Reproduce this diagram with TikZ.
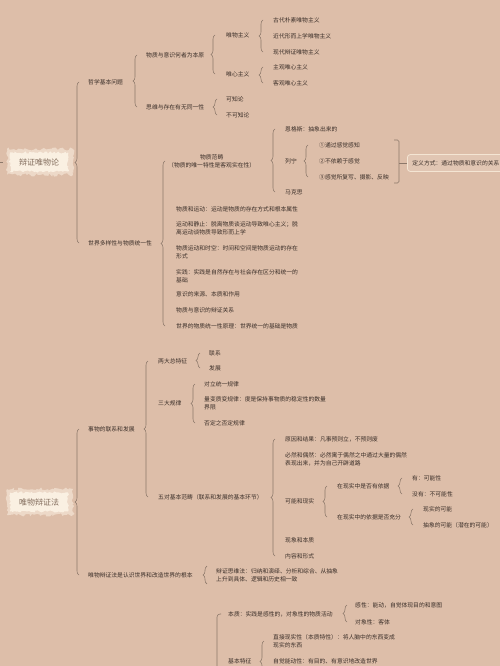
\documentclass[tikz,border=0pt]{standalone}
\usepackage{fontspec}
\newfontfamily\cjk{Noto Sans CJK SC}
\usetikzlibrary{calc,positioning,decorations.pathreplacing,decorations.pathmorphing}
\definecolor{bgtan}{RGB}{221,190,169}
\definecolor{inkbrown}{RGB}{58,46,40}
\definecolor{bracegray}{RGB}{140,120,106}
\definecolor{blobcream}{RGB}{250,240,226}
\definecolor{blobtext}{RGB}{130,108,92}
\definecolor{boxedge}{RGB}{244,229,211}

\tikzset{
  leaf/.style={anchor=west, inner sep=0pt, text=inkbrown, font=\cjk\fontsize{5.8}{8}\selectfont},
  twoline/.style={leaf, align=left},
  brcline/.style={draw=bracegray, line width=0.55pt},
  brc/.style={brcline, decorate, decoration={brace, amplitude=4pt}},
  rootblob/.style={fill=blobcream, text=blobtext, font=\cjk\fontsize{8}{9}\selectfont,
    minimum width=58pt, minimum height=19pt, inner sep=0pt,
    decorate, decoration={random steps, segment length=1.6pt, amplitude=1.1pt}},
  blobhalo/.style={fill=blobcream!55!bgtan,
    decorate, decoration={random steps, segment length=2pt, amplitude=1.6pt}},
  defbox/.style={leaf, draw=boxedge, line width=0.8pt, fill=bgtan!88!white,
    rounded corners=3pt, minimum height=17pt, inner xsep=5pt},
}

% brace from top child #2 down to bottom child #3, #1 = gap to the children
\newcommand{\tie}[3][10]{%
  \path ($(#3.west)+(-#1,0)$) coordinate (bb);
  \draw[brc] (bb) -- (bb |- #2.west);
}

\begin{document}
\begin{tikzpicture}[x=1pt,y=-1pt]
  \fill[bgtan] (0,0) rectangle (500,666);
  \useasboundingbox (0,0) rectangle (500,666);
  \pgfmathsetseed{7}

  %% 辩证唯物论
  \coordinate (c1) at (39,162);
  \fill[blobhalo] ($(c1)+(-32,-13)$) rectangle ($(c1)+(34,13)$);
  \node[rootblob] (dvm) at (c1) {辩证唯物论};
  \coordinate (edge1) at (0,162);
  \draw[brcline] (edge1) -- ++(3,0);

  \node[leaf] (zxjb) at (88,82) {哲学基本问题};
  \node[leaf] (sjdy) at (88,243) {世界多样性与物质统一性};
  \tie[9]{zxjb}{sjdy}

  \node[leaf] (wzyy) at (146,55) {物质与意识何者为本原};
  \node[leaf] (swcz) at (146,107) {思维与存在有无同一性};
  \tie[9]{wzyy}{swcz}

  \node[leaf] (wwzy) at (226,35) {唯物主义};
  \node[leaf] (wxzy) at (226,74) {唯心主义};
  \tie[11]{wwzy}{wxzy}

  \node[leaf] (gd) at (273,20) {古代朴素唯物主义};
  \node[leaf] (jd) at (273,36) {近代形而上学唯物主义};
  \node[leaf] (xd) at (273,52) {现代辩证唯物主义};
  \tie{gd}{xd}
  \node[leaf] (zg) at (273,67) {主观唯心主义};
  \node[leaf] (kg) at (273,83) {客观唯心主义};
  \tie{zg}{kg}

  \node[leaf] (kzl) at (226,99) {可知论};
  \node[leaf] (bkzl) at (226,115) {不可知论};
  \tie[9]{kzl}{bkzl}

  \node[twoline, align=center] (wzfc) at (168,161) {物质范畴\\（物质的唯一特性是客观实在性）};
  \node[leaf] (wzyd) at (176,209) {物质和运动：运动是物质的存在方式和根本属性};
  \node[twoline] (ydjz) at (176,228) {运动和静止：脱离物质谈运动导致唯心主义；脱\\离运动谈物质导致形而上学};
  \node[twoline] (ydsk) at (176,252) {物质运动和时空：时间和空间是物质运动的存在\\形式};
  \node[twoline] (sj) at (176,276) {实践：实践是自然存在与社会存在区分和统一的\\基础};
  \node[leaf] (ysly) at (176,294) {意识的来源、本质和作用};
  \node[leaf] (wzys) at (176,310) {物质与意识的辩证关系};
  \node[leaf] (tyx) at (176,326) {世界的物质统一性原理：世界统一的基础是物质};
  \tie[11]{wzfc}{tyx}

  \node[leaf] (egs) at (285,129) {恩格斯：抽象出来的};
  \node[leaf] (ln) at (285,161) {列宁};
  \node[leaf] (mkz) at (285,192) {马克思};
  \tie{egs}{mkz}

  \node[leaf] (ln1) at (319,145) {①通过感觉感知};
  \node[leaf] (ln2) at (319,161) {②不依赖于感觉};
  \node[leaf] (ln3) at (319,177) {③感觉所复写、摄影、反映};
  \tie[11]{ln1}{ln3}

  \node[defbox] (dyfs) at (407,163) {定义方式：通过物质和意识的关系};
  \coordinate (qtop) at (394,140);
  \coordinate (qbot) at (394,183);
  \coordinate (qmid) at (399,163);
  \draw[brcline, rounded corners=1.5pt] (qtop) -- ++(5,0) -- (qbot -| qmid) -- (qbot);
  \draw[brcline] (qmid) -- (dyfs.west);

  %% 唯物辩证法
  \coordinate (c2) at (39,502);
  \fill[blobhalo] ($(c2)+(-32,-13)$) rectangle ($(c2)+(34,13)$);
  \node[rootblob] (wbz) at (c2) {唯物辩证法};

  \node[leaf] (swlx) at (88,429) {事物的联系和发展};
  \node[leaf] (wbgb) at (88,575) {唯物辩证法是认识世界和改造世界的根本};
  \tie[9]{swlx}{wbgb}

  \node[leaf] (ldtz) at (158,361) {两大总特征};
  \node[leaf] (sdgl) at (158,403) {三大规律};
  \node[leaf] (wdfc) at (158,497) {五对基本范畴（联系和发展的基本环节）};
  \tie{ldtz}{wdfc}

  \node[leaf] (lx) at (209,353) {联系};
  \node[leaf] (fz) at (209,368) {发展};
  \tie[9]{lx}{fz}

  \node[leaf] (dltyl) at (204,384) {对立统一规律};
  \node[twoline] (lbzb) at (204,403) {量变质变规律：度是保持事物质的稳定性的数量\\界限};
  \node[leaf] (fdzfd) at (204,423) {否定之否定规律};
  \tie[9]{dltyl}{fdzfd}

  \node[leaf] (yyjg) at (285,439) {原因和结果：凡事预则立，不预则废};
  \node[twoline] (brou) at (285,459) {必然和偶然：必然寓于偶然之中通过大量的偶然\\表现出来，并为自己开辟道路};
  \node[leaf] (knxs) at (285,501) {可能和现实};
  \node[leaf] (xxbz) at (285,540) {现象和本质};
  \node[leaf] (nrxs) at (285,556) {内容和形式};
  \tie{yyjg}{nrxs}

  \node[leaf] (xsyj) at (337,486) {在现实中是否有依据};
  \node[leaf] (yjcf) at (337,517) {在现实中的依据是否充分};
  \tie{xsyj}{yjcf}

  \node[leaf] (you) at (412,478) {有：可能性};
  \node[leaf] (meiyou) at (412,494) {没有：不可能性};
  \tie{you}{meiyou}

  \node[leaf] (xskn) at (423,509) {现实的可能};
  \node[leaf] (cxkn) at (423,525) {抽象的可能（潜在的可能）};
  \tie{xskn}{cxkn}

  \node[twoline] (bzsw) at (216,575) {辩证思维法：归纳和演绎、分析和综合、从抽象\\上升到具体、逻辑和历史相一致};
  \draw[brc] ($(bzsw.south west)+(-9,2)$) -- ($(bzsw.north west)+(-9,-2)$);

  %% 实践（下方截断）
  \node[leaf] (bz) at (228,614) {本质：实践是感性的，对象性的物质活动};
  \node[leaf] (jbtz) at (228,661) {基本特征};
  \coordinate (bot1) at (217,690);
  \draw[brcline, rounded corners=3pt] ($(bz.west)+(-7,0)$) -- (bz.west -| bot1) -- (bot1);

  \node[leaf] (gx) at (355,605) {感性：能动，自觉体现目的和意图};
  \node[leaf] (dxx) at (355,622) {对象性：客体};
  \tie[8]{gx}{dxx}

  \node[twoline] (zjxs) at (273,641) {直接现实性（本质特性）：将人脑中的东西变成\\现实的东西};
  \node[leaf] (zjnd) at (273,661) {自觉能动性：有目的、有意识地改造世界};
  \coordinate (bot2) at (264,682);
  \draw[brc] (bot2) -- (bot2 |- zjxs.west);
\end{tikzpicture}
\end{document}
